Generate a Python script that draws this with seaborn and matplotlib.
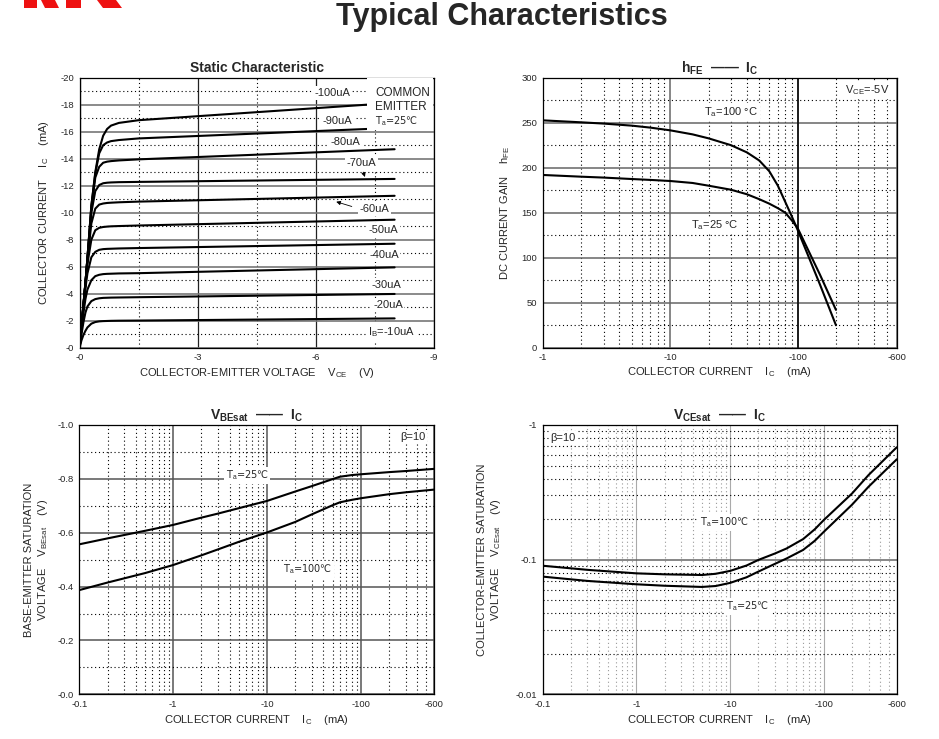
import matplotlib as mpl

mpl.use("Agg")

import matplotlib.pyplot as plt
from matplotlib.patches import Polygon, Rectangle
from matplotlib.ticker import NullFormatter
import seaborn as sns

sns.set_style("white")
plt.rcParams["font.family"] = ["Liberation Sans", "DejaVu Sans"]
plt.rcParams["mathtext.fontset"] = "custom"
plt.rcParams["mathtext.rm"] = "Liberation Sans"
plt.rcParams["mathtext.it"] = "Liberation Sans"
plt.rcParams["mathtext.bf"] = "Liberation Sans:bold"

# ---- static characteristic: |Ic| (mA) vs |Vce| (V), one curve per Ib
vce = [0, 0.05, 0.1, 0.15, 0.2, 0.3, 0.4, 0.5, 0.6, 0.7, 0.8, 1.0, 1.5]
vce_end = [8.0, 8.0, 8.0, 8.0, 8.0, 8.0, 8.0, 8.0, 7.3, 7.3]
ib_names = ["10uA", "20uA", "30uA", "40uA", "50uA", "60uA", "70uA", "80uA", "90uA", "100uA"]
ic_curves = [
    [0, 0.55, 0.95, 1.25, 1.5, 1.78, 1.9, 1.95, 1.97, 1.98, 1.99, 2.0, 2.01, 2.17],
    [0, 1.0, 1.9, 2.6, 3.05, 3.45, 3.6, 3.66, 3.69, 3.7, 3.71, 3.72, 3.74, 3.98],
    [0, 1.3, 2.6, 3.6, 4.3, 5.0, 5.3, 5.4, 5.45, 5.47, 5.48, 5.5, 5.52, 5.95],
    [0, 1.5, 3.0, 4.4, 5.5, 6.7, 7.1, 7.25, 7.3, 7.32, 7.33, 7.35, 7.38, 7.7],
    [0, 1.6, 3.1, 4.7, 6.2, 8.0, 8.7, 8.88, 8.94, 8.97, 8.99, 9.01, 9.05, 9.48],
    [0, 1.6, 3.2, 4.8, 6.5, 9.2, 10.3, 10.6, 10.68, 10.72, 10.74, 10.77, 10.82, 11.25],
    [0, 1.6, 3.2, 4.8, 6.6, 10.0, 11.6, 12.05, 12.18, 12.22, 12.24, 12.26, 12.28, 12.5],
    [0, 1.6, 3.2, 4.8, 6.6, 10.3, 12.6, 13.4, 13.7, 13.78, 13.82, 13.87, 13.95, 14.7],
    [0, 1.6, 3.2, 4.8, 6.6, 10.5, 12.9, 14.4, 15.0, 15.2, 15.3, 15.38, 15.5, 16.2],
    [0, 1.6, 3.2, 4.8, 6.6, 10.5, 13.0, 14.7, 15.7, 16.2, 16.45, 16.65, 16.85, 18.0],
]
ib_text = ["I$_B$=-10uA", "-20uA", "-30uA", "-40uA", "-50uA", "-60uA", "-70uA", "-80uA", "-90uA", "-100uA"]
ib_text_x = [7.93, 7.83, 7.78, 7.73, 7.71, 7.48, 7.15, 6.74, 6.54, 6.41]
ib_text_y = [1.16, 3.16, 4.64, 6.87, 8.72, 10.27, 13.68, 15.24, 16.8, 18.87]
vce_ticks = [0, 3, 6, 9]
vce_ticklabels = ["-0", "-3", "-6", "-9"]
ic_ticks = [0, 2, 4, 6, 8, 10, 12, 14, 16, 18, 20]
ic_ticklabels = ["-0", "-2", "-4", "-6", "-8", "-10", "-12", "-14", "-16", "-18", "-20"]

# ---- hFE vs Ic
ic_hfe = [1, 2, 3, 5, 7, 10, 15, 20, 30, 40, 50, 60, 70, 80, 90, 100, 150, 200]
hfe_100 = [252.6, 250.4, 249, 246.7, 244.5, 241.5, 237, 232.6, 225, 217, 208,
           196, 180, 162, 146, 131, 70, 25]
hfe_25 = [191.9, 190, 189, 187.4, 186.4, 185.2, 183, 180, 175.5, 170.5, 165,
          160, 155, 150, 141.5, 133, 81, 42]
hfe_ticks = [0, 50, 100, 150, 200, 250, 300]
hfe_ticklabels = ["0", "50", "100", "150", "200", "250", "300"]
ic_log_ticks = [1, 10, 100, 600]
ic_log_ticklabels = ["-1", "-10", "-100", "-600"]

# ---- VBEsat / VCEsat vs Ic (beta = 10)
ic_sat = [0.1, 0.2, 0.5, 1, 2, 3, 5, 10, 20, 30, 50, 60, 80, 100, 200, 300, 600]
vbe_25 = [0.557, 0.579, 0.607, 0.629, 0.656, 0.671, 0.691, 0.718, 0.753, 0.773,
          0.799, 0.808, 0.814, 0.817, 0.825, 0.829, 0.837]
vbe_100 = [0.387, 0.415, 0.45, 0.48, 0.516, 0.538, 0.566, 0.601, 0.64, 0.668,
           0.702, 0.713, 0.722, 0.728, 0.743, 0.75, 0.76]
ic_ce = [0.1, 0.3, 1, 2, 5, 7, 10, 15, 20, 30, 40, 60, 80, 100, 200, 300, 600]
vce_100 = [0.0901, 0.084, 0.0791, 0.0778, 0.0769, 0.0785, 0.0825, 0.0905, 0.0995,
           0.111, 0.121, 0.142, 0.168, 0.197, 0.31, 0.425, 0.683]
vce_25 = [0.0748, 0.0695, 0.0656, 0.064, 0.0627, 0.0637, 0.0672, 0.074, 0.0815,
          0.093, 0.102, 0.118, 0.138, 0.161, 0.256, 0.348, 0.556]
sat_x_ticks = [0.1, 1, 10, 100, 600]
sat_x_ticklabels = ["-0.1", "-1", "-10", "-100", "-600"]
vbe_ticks = [0, 0.2, 0.4, 0.6, 0.8, 1.0]
vbe_ticklabels = ["-0.0", "-0.2", "-0.4", "-0.6", "-0.8", "-1.0"]
vces_ticks = [0.01, 0.1, 1]
vces_ticklabels = ["-0.01", "-0.1", "-1"]

DOT = dict(linestyle=(0, (1, 2.5)), linewidth=0.8, color="black")
CURVE = dict(color="black", linewidth=1.5)
BOX = dict(facecolor="white", edgecolor="none", pad=1.2)
LBL = 8
NOTE = 8
DEG = dict(family="DejaVu Sans", fontsize=7)  # Liberation has no ℃ sign


def log_minors(lo, hi):
    out = []
    d = lo
    while d < hi:
        out += [d * k for k in range(2, 10) if lo < d * k < hi]
        d *= 10
    return out


def base_style(ax):
    ax.tick_params(which="both", length=0, labelsize=6.8, pad=4)
    ax.set_axisbelow(True)
    for s in ax.spines.values():
        s.set_visible(True)
        s.set_color("black")
        s.set_linewidth(0.9)


fig = plt.figure(figsize=(9.39, 7.39), dpi=100)
ax1 = fig.add_axes([0.0847, 0.5295, 0.3775, 0.3654])
ax2 = fig.add_axes([0.578, 0.5295, 0.377, 0.3654])
ax3 = fig.add_axes([0.0845, 0.0605, 0.3775, 0.3644])
ax4 = fig.add_axes([0.578, 0.0605, 0.377, 0.3644])

fig.text(0.534, 0.977, "Typical Characteristics", ha="center", va="center",
         fontsize=22, fontweight="bold")
# red logo, cut at the top edge
for xs in [(24, 37, 37, 24), (41, 55, 59, 45), (66, 81, 81, 66), (97, 116, 122, 103)]:
    fig.patches.append(Polygon(
        [(xs[0] / 939, 1), (xs[1] / 939, 1), (xs[2] / 939, 1 - 8 / 739), (xs[3] / 939, 1 - 8 / 739)],
        closed=True, facecolor="#ee1111", edgecolor="none", transform=fig.transFigure))

# ---------------- static characteristic
base_style(ax1)
for curve, v_end in zip(ic_curves, vce_end):
    sns.lineplot(x=vce + [v_end], y=curve, ax=ax1, **CURVE)
ax1.set_xlim(0, 9)
ax1.set_ylim(0, 20)
ax1.set_xticks(vce_ticks, vce_ticklabels)
ax1.set_yticks(ic_ticks, ic_ticklabels)
ax1.set_xticks([1.5, 4.5, 7.5], minor=True)
ax1.set_yticks(list(range(1, 20, 2)), minor=True)
ax1.xaxis.set_minor_formatter(NullFormatter())
ax1.yaxis.set_minor_formatter(NullFormatter())
ax1.grid(which="major", axis="x", color="#222222", linewidth=0.9)
ax1.grid(which="major", axis="y", color="#777777", linewidth=1.2)
ax1.grid(which="minor", **DOT)
for t, x, y in zip(ib_text, ib_text_x, ib_text_y):
    ax1.text(x, y, t, fontsize=NOTE, ha="center", va="center", bbox=BOX, zorder=5)
# white panel behind the "common emitter" note
ax1.add_patch(Rectangle((7.3, 16.1), 1.67, 3.87, facecolor="white", edgecolor="none", zorder=3))
ax1.text(7.5, 18.35, "COMMON\nEMITTER", fontsize=8.5, ha="left", va="center",
         linespacing=1.2, zorder=5)
ax1.text(7.5, 16.8, "T$_a$=25℃", ha="left", va="center", zorder=5, **DEG)
ax1.annotate("", xy=(7.27, 12.45), xytext=(7.18, 13.2),
             arrowprops=dict(arrowstyle="-|>", color="black", lw=0.6, mutation_scale=6), zorder=6)
ax1.annotate("", xy=(6.45, 10.87), xytext=(6.98, 10.4),
             arrowprops=dict(arrowstyle="-|>", color="black", lw=0.6, mutation_scale=6), zorder=6)
ax1.set_title("Static Characteristic", fontsize=10, fontweight="bold", pad=4)
ax1.set_xlabel("COLLECTOR-EMITTER VOLTAGE    V$_{CE}$    (V)", fontsize=LBL, labelpad=3)
ax1.set_ylabel("COLLECTOR CURRENT    I$_C$    (mA)", fontsize=LBL, labelpad=7)

# ---------------- hFE
base_style(ax2)
ax2.set_xscale("log")
sns.lineplot(x=ic_hfe, y=hfe_100, ax=ax2, **CURVE)
sns.lineplot(x=ic_hfe, y=hfe_25, ax=ax2, **CURVE)
ax2.set_xlim(1, 600)
ax2.set_ylim(0, 300)
ax2.set_xticks(ic_log_ticks, ic_log_ticklabels)
ax2.set_xticks(log_minors(1, 600), minor=True)
ax2.set_yticks(hfe_ticks, hfe_ticklabels)
ax2.set_yticks([25, 75, 125, 175, 225, 275], minor=True)
ax2.xaxis.set_minor_formatter(NullFormatter())
ax2.yaxis.set_minor_formatter(NullFormatter())
ax2.grid(which="major", color="#666666", linewidth=1.1)
ax2.grid(which="minor", **DOT)
ax2.axvline(100, color="black", linewidth=1.1, zorder=1)
ax2.text(30.2, 262, "T$_a$=100 °C", fontsize=NOTE, ha="center", va="center", bbox=BOX)
ax2.text(22.6, 136, "T$_a$=25 °C", fontsize=NOTE, ha="center", va="center", bbox=BOX)
ax2.text(353, 286, "V$_{CE}$=-5V", fontsize=NOTE, ha="center", va="center", bbox=BOX)
ax2.set_title(r"$\mathbf{h_{FE}}$  ——  $\mathbf{I_C}$", fontsize=10, fontweight="bold", pad=4)
ax2.set_xlabel("COLLECTOR CURRENT    I$_C$    (mA)", fontsize=LBL, labelpad=2)
ax2.set_ylabel("DC CURRENT GAIN    h$_{FE}$", fontsize=LBL, labelpad=7)

# ---------------- VBEsat
base_style(ax3)
ax3.set_xscale("log")
sns.lineplot(x=ic_sat, y=vbe_25, ax=ax3, **CURVE)
sns.lineplot(x=ic_sat, y=vbe_100, ax=ax3, **CURVE)
ax3.set_xlim(0.1, 600)
ax3.set_ylim(0, 1.0)
ax3.set_xticks(sat_x_ticks, sat_x_ticklabels)
ax3.set_xticks(log_minors(0.1, 600), minor=True)
ax3.set_yticks(vbe_ticks, vbe_ticklabels)
ax3.set_yticks([0.1, 0.3, 0.5, 0.7, 0.9], minor=True)
ax3.xaxis.set_minor_formatter(NullFormatter())
ax3.yaxis.set_minor_formatter(NullFormatter())
ax3.grid(which="major", color="#555555", linewidth=1.1)
ax3.grid(which="minor", **DOT)
ax3.text(6.16, 0.814, "T$_a$=25℃", ha="center", va="center", bbox=BOX, **DEG)
ax3.text(26.9, 0.465, "T$_a$=100℃", ha="center", va="center", bbox=BOX, **DEG)
ax3.text(355, 0.955, "β=10", fontsize=NOTE, ha="center", va="center", bbox=BOX)
ax3.set_title(r"$\mathbf{V_{BEsat}}$  ——  $\mathbf{I_C}$", fontsize=10, fontweight="bold", pad=4)
ax3.set_xlabel("COLLECTOR CURRENT    I$_C$    (mA)", fontsize=LBL, labelpad=3)
ax3.set_ylabel("BASE-EMITTER SATURATION\nVOLTAGE    V$_{BEsat}$    (V)", fontsize=LBL, labelpad=5)

# ---------------- VCEsat
base_style(ax4)
ax4.set_xscale("log")
ax4.set_yscale("log")
sns.lineplot(x=ic_ce, y=vce_100, ax=ax4, **CURVE)
sns.lineplot(x=ic_ce, y=vce_25, ax=ax4, **CURVE)
ax4.set_xlim(0.1, 600)
ax4.set_ylim(0.01, 1)
ax4.set_xticks(sat_x_ticks, sat_x_ticklabels)
ax4.set_xticks(log_minors(0.1, 600), minor=True)
ax4.set_yticks(vces_ticks, vces_ticklabels)
ax4.set_yticks(log_minors(0.01, 1), minor=True)
ax4.xaxis.set_minor_formatter(NullFormatter())
ax4.yaxis.set_minor_formatter(NullFormatter())
ax4.grid(which="major", axis="x", color="#aaaaaa", linewidth=0.8)
ax4.grid(which="major", axis="y", color="#666666", linewidth=1.1)
ax4.grid(which="minor", axis="x", linestyle=(0, (1, 2.5)), linewidth=0.8, color="#999999")
ax4.grid(which="minor", axis="y", **DOT)
ax4.text(8.83, 0.19, "T$_a$=100℃", ha="center", va="center", bbox=BOX, **DEG)
ax4.text(15.5, 0.0452, "T$_a$=25℃", ha="center", va="center", bbox=BOX, **DEG)
ax4.text(0.165, 0.80, "β=10", fontsize=NOTE, ha="center", va="center", bbox=BOX)
ax4.set_title(r"$\mathbf{V_{CEsat}}$  ——  $\mathbf{I_C}$", fontsize=10, fontweight="bold", pad=4)
ax4.set_xlabel("COLLECTOR CURRENT    I$_C$    (mA)", fontsize=LBL, labelpad=3)
ax4.set_ylabel("COLLECTOR-EMITTER SATURATION\nVOLTAGE    V$_{CEsat}$    (V)", fontsize=LBL, labelpad=9)

fig.savefig("out.png", dpi=100)
